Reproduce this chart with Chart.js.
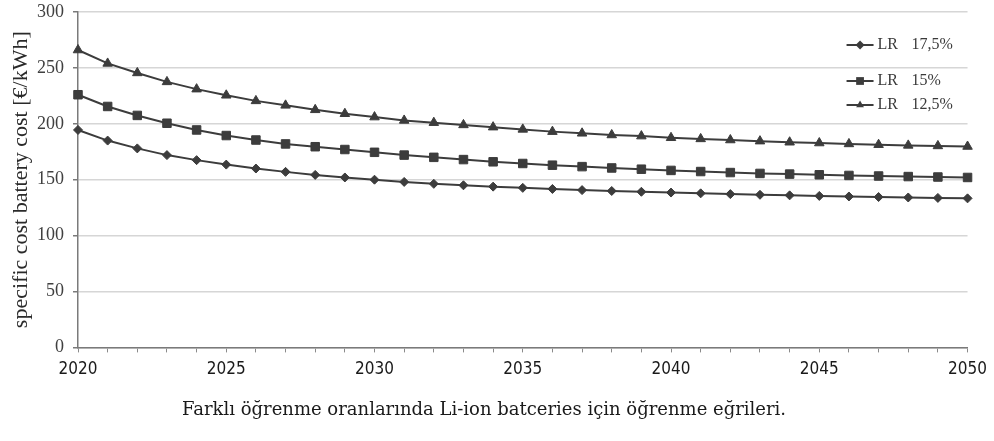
<!DOCTYPE html>
<html><head><meta charset="utf-8">
<script src="https://cdn.jsdelivr.net/npm/chart.js@4/dist/chart.umd.min.js"></script>
<style>html,body{margin:0;padding:0;background:#fff;}</style>
</head><body>
<canvas id="c" width="994" height="441"></canvas>
<script>
const years = [2020,2021,2022,2023,2024,2025,2026,2027,2028,2029,2030,2031,2032,2033,2034,2035,2036,2037,2038,2039,2040,2041,2042,2043,2044,2045,2046,2047,2048,2049,2050];
const lr175 = [194.5,185,178,172,167.5,163.5,160,157,154.3,152,150,148,146.3,145,143.8,142.7,141.7,140.7,139.9,139.2,138.5,137.8,137.1,136.5,136,135.5,135,134.5,134.1,133.7,133.3];
const lr15  = [226,215.5,207.5,200.5,194.5,189.5,185.5,182,179.5,177,174.5,172,170,168,166,164.5,163,161.7,160.5,159.4,158.3,157.3,156.4,155.6,155,154.4,153.8,153.3,152.8,152.4,152];
const lr125 = [266,254,245.5,237.5,231,225.5,220.5,216.5,212.5,209,206,203,201,199,197,195,193,191.5,190,189,187.5,186.5,185.5,184.5,183.5,182.8,182,181.3,180.7,180.2,179.7];
const seriesLabels = ['LR  17,5%','LR  15%','LR  12,5%'];
const yTitle = 'specific cost battery cost [€/kWh]';
const caption = 'Farklı öğrenme oranlarında Li-ion batceries için öğrenme eğrileri.';

const LINE = '#3c3c3c';
const styles = [
  {pointStyle:'rectRot', pointRadius:4.5},
  {pointStyle:'rect', pointRadius:6},
  {pointStyle:'triangle', pointRadius:5.5}
];
const allData = [lr175, lr15, lr125];

const datasets = allData.map((d,i)=>({
  label: seriesLabels[i],
  data: d,
  borderColor: LINE,
  backgroundColor: LINE,
  pointBackgroundColor: LINE,
  pointBorderColor: LINE,
  borderWidth: 2,
  pointBorderWidth: 1,
  pointStyle: styles[i].pointStyle,
  pointRadius: styles[i].pointRadius,
  tension: 0
}));

function marker(ctx, style, x, y, r){
  ctx.beginPath();
  if(style==='rectRot'){
    ctx.moveTo(x, y-r); ctx.lineTo(x+r, y); ctx.lineTo(x, y+r); ctx.lineTo(x-r, y);
  } else if(style==='rect'){
    const s = r*Math.SQRT1_2; ctx.rect(x-s, y-s, 2*s, 2*s);
  } else {
    ctx.moveTo(x, y - r); ctx.lineTo(x + r*0.866, y + r*0.5); ctx.lineTo(x - r*0.866, y + r*0.5);
  }
  ctx.closePath(); ctx.fill();
}

const legendPlugin = {
  id:'customLegend',
  afterDraw(chart){
    const ctx = chart.ctx; const a = chart.chartArea;
    const rowsY = [a.top + 33, a.top + 69, a.top + 93];
    const x0 = a.right - 121;
    ctx.save();
    datasets.forEach((ds,i)=>{
      const y = rowsY[i];
      ctx.strokeStyle = LINE; ctx.lineWidth = 2;
      ctx.beginPath(); ctx.moveTo(x0, y); ctx.lineTo(x0+27, y); ctx.stroke();
      ctx.fillStyle = LINE;
      marker(ctx, ds.pointStyle, x0+13.5, y, ds.pointStyle==='rect'?5.5:4.5);
      ctx.fillStyle = '#3a3a3a';
      ctx.font = '16px "Liberation Serif", serif';
      ctx.textBaseline = 'middle'; ctx.textAlign = 'left';
      const parts = ds.label.split('  ');
      ctx.fillText(parts[0], x0+31, y);
      ctx.fillText(parts[1], x0+65, y);
    });
    ctx.restore();
  }
};

new Chart(document.getElementById('c'), {
  type:'line',
  data:{ labels: years, datasets },
  options:{
    responsive:false, animation:false, devicePixelRatio:1,
    layout:{ padding:{ left:0, right:26, top:12, bottom:0 } },
    plugins:{
      legend:{ display:false },
      tooltip:{ enabled:false },
      title:{ display:true, position:'bottom', text: caption,
        font:{ family:'"DejaVu Serif", serif', size:18, weight:'normal', lineHeight:1.2 }, color:'#1a1a1a',
        padding:{ top:0, bottom:20 } }
    },
    scales:{
      x:{
        type:'category', offset:false,
        grid:{ drawOnChartArea:false, drawTicks:true, tickLength:5, color:'#8a8a8a', lineWidth:1 },
        border:{ display:true, color:'#7a7a7a', width:1.5 },
        ticks:{ autoSkip:false, maxRotation:0, minRotation:0, padding:7, color:'#1a1a1a',
          font:{ family:'"Liberation Sans Narrow", "DejaVu Sans Condensed", sans-serif', size:17 },
          callback:(v,i)=> years[i]%5===0 ? String(years[i]) : '' },
        afterFit:(s)=>{ s.height = 52; }
      },
      y:{
        min:0, max:300,
        grid:{ color:'#d6d6d6', lineWidth:1.5, tickColor:'#7a7a7a', tickLength:5, drawTicks:true },
        border:{ display:true, color:'#7a7a7a', width:1.5 },
        ticks:{ stepSize:50, padding:9, color:'#404040',
          font:{ family:'"Liberation Serif", serif', size:18 } },
        title:{ display:true, text:yTitle, color:'#2a2a2a',
          font:{ family:'"Liberation Serif", serif', size:22 }, padding:{ top:8, bottom:0 } },
        afterFit:(s)=>{ s.width = 78; s.paddingTop = 0; s.paddingBottom = 0; }
      }
    }
  },
  plugins:[legendPlugin]
});
</script>
</body></html>
